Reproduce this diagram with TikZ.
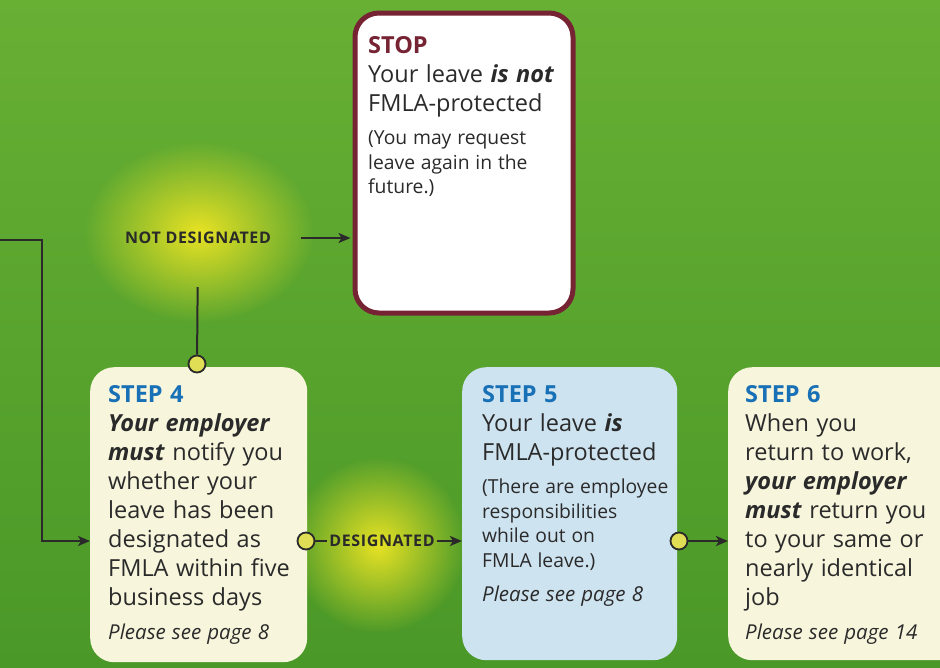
\documentclass[tikz,border=0pt]{standalone}
\usepackage{fontspec}
\setmainfont{Open Sans}
\usetikzlibrary{arrows.meta,fadings,positioning}
\definecolor{bgtop}{RGB}{104,176,52}
\definecolor{bgbottom}{RGB}{74,152,40}
\definecolor{glow}{RGB}{232,226,36}
\definecolor{cream}{RGB}{247,245,220}
\definecolor{paleblue}{RGB}{206,227,240}
\definecolor{stepblue}{RGB}{24,112,182}
\definecolor{stopred}{RGB}{118,36,52}
\definecolor{ink}{RGB}{42,42,42}
\definecolor{knobyellow}{RGB}{224,222,84}
\tikzfading[name=glowfade, inner color=transparent!0, outer color=transparent!100]
\newcommand{\bigtext}{\fontsize{23.5}{29}\selectfont\spaceskip=0.32em plus 0.1em}
\newcommand{\smalltext}{\fontsize{19.3}{24.5}\selectfont\spaceskip=0.3em plus 0.1em}
\newcommand{\seetext}{\fontsize{20.5}{24.5}\selectfont\itshape\spaceskip=0.3em plus 0.1em}
\newcommand{\bi}[1]{\textbf{\textit{#1}}}

\begin{document}
\begin{tikzpicture}[x=1pt,y=-1pt]
\tikzset{
  card/.style={rounded corners=24pt, anchor=north west, inner sep=0pt},
  words/.style={anchor=north west, inner sep=0pt, text width=215pt, align=left, text=ink},
  tag/.style={font=\fontsize{16}{18}\selectfont\bfseries\addfontfeature{LetterSpace=4}, text=ink, inner sep=2pt},
  link/.style={draw=ink, line width=2pt},
  pointer/.style={link, -{Stealth[length=12pt,width=10pt,inset=3pt]}},
  knob/.style={circle, draw=ink, line width=1.8pt, fill=knobyellow, minimum size=17pt, inner sep=0pt}
}
\clip (0,0) rectangle (940,667);
\shade[top color=bgtop, bottom color=bgbottom] (0,0) rectangle (940,667);
\fill[glow, path fading=glowfade] (199,232) ellipse (115pt and 90pt);
\fill[glow, path fading=glowfade] (378,545) ellipse (88pt and 88pt);

\node[card, fill=white, draw=stopred, line width=5pt, minimum width=218pt, minimum height=300pt] (stop) at (352.5,10.5) {};
\node[card, fill=cream, minimum width=217pt, minimum height=295pt] (s4) at (90,367) {};
\node[card, fill=paleblue, minimum width=215pt, minimum height=293pt] (s5) at (462,367) {};
\node[card, fill=cream, minimum width=260pt, minimum height=293pt] (s6) at (728,367) {};

\node[tag] (nd) at (198,238) {NOT DESIGNATED};
\node[tag] (dg) at (382,541) {DESIGNATED};
\node[knob] (k1) at (197,364) {};
\node[knob] (k2) at (306,541) {};
\node[knob] (k3) at (679,541) {};
\coordinate (entry) at (0,240);
\coordinate (bend) at (42,541);

\draw[pointer] (entry) -| (bend) -- (bend -| s4.west);
\draw[pointer, shorten <=28pt, shorten >=2pt] (nd.east) -- (nd.east -| stop.west);
\draw[link, shorten <=41pt] (nd.south) -- (k1);
\draw[link] (k2) -- (dg);
\draw[pointer] (dg) -- (dg -| s5.west);
\draw[pointer] (k3) -- (k3 -| s6.west);

\node[words] (stoptext) at ([shift={(15.5,26)}]stop.north west) {%
{\bigtext\textcolor{stopred}{\bfseries STOP}\\
Your leave \bi{is not}\\
FMLA-protected\par}
\vspace{8.5pt}
{\smalltext(You may request\\
leave again in the\\
future.)\par}};

\node[words] (s4text) at ([shift={(18,18.5)}]s4.north west) {%
{\bigtext\textcolor{stepblue}{\bfseries STEP 4}\\
\bi{Your employer}\\
\bi{must} notify you\\
whether your\\
leave has been\\
designated as\\
FMLA within five\\
business days\par}
\vspace{9.5pt}
{\seetext Please see page 8\par}};

\node[words] (s5text) at ([shift={(20,18.5)}]s5.north west) {%
{\bigtext\textcolor{stepblue}{\bfseries STEP 5}\\
Your leave \bi{is}\\
FMLA-protected\par}
\vspace{8.5pt}
{\smalltext(There are employee\\
responsibilities\\
while out on\\
FMLA leave.)\par}
\vspace{9.5pt}
{\seetext Please see page 8\par}};

\node[words] (s6text) at ([shift={(17,18.5)}]s6.north west) {%
{\bigtext\textcolor{stepblue}{\bfseries STEP 6}\\
When you\\
return to work,\\
\bi{your employer}\\
\bi{must} return you\\
to your same or\\
nearly identical\\
job\par}
\vspace{9.5pt}
{\seetext Please see page 14\par}};
\end{tikzpicture}
\end{document}
